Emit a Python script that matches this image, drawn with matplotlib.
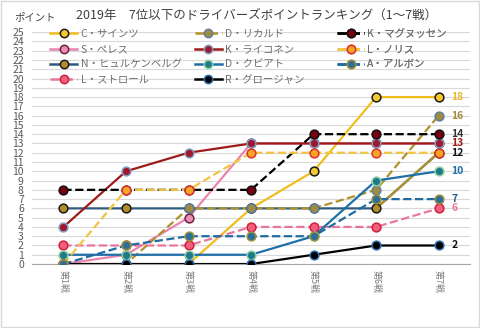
import matplotlib.pyplot as plt
from matplotlib.lines import Line2D
from matplotlib.patches import Rectangle

plt.rcParams['font.family'] = ['Noto Sans CJK JP', 'DejaVu Sans']

races = ['第1戦', '第2戦', '第3戦', '第4戦', '第5戦', '第6戦', '第7戦']
x = list(range(1, 8))

sainz = [0, 0, 0, 6, 10, 18, 18]
ricciardo = [0, 0, 6, 6, 6, 8, 16]
magnussen = [8, 8, 8, 8, 14, 14, 14]
perez = [0, 1, 5, 13, 13, 13, 13]
raikkonen = [4, 10, 12, 13, 13, 13, 13]
norris = [0, 8, 8, 12, 12, 12, 12]
hulkenberg = [6, 6, 6, 6, 6, 6, 12]
kvyat = [1, 1, 1, 1, 3, 9, 10]
albon = [0, 2, 3, 3, 3, 7, 7]
stroll = [2, 2, 2, 4, 4, 4, 6]
grosjean = [0, 0, 0, 0, 1, 2, 2]

# name, data, line colour, linestyle, marker face, marker edge, end label colour
series = [
    ('C・サインツ', sainz, '#F0BE1E', '-', '#F5C830', '#1A1A1A', '#E8B830'),
    ('S・ペレス', perez, '#E884AE', '-', '#EE8CB4', '#6A2440', None),
    ('N・ヒュルケンベルグ', hulkenberg, '#2F5C7E', '-', '#B38D2A', '#1A1A1A', '#111111'),
    ('L・ストロール', stroll, '#E8769C', '--', '#F0607E', '#D0203C', '#E8769C'),
    ('D・リカルド', ricciardo, '#B0922C', '--', '#A18B3E', '#5E80A0', '#A08A3C'),
    ('K・ライコネン', raikkonen, '#9E1A1A', '-', '#A0182E', '#7F9FC0', '#A01818'),
    ('D・クビアト', kvyat, '#1E6FA8', '-', '#1F7A8C', '#90D0A0', '#1F6FA8'),
    ('R・グロージャン', grosjean, '#000000', '-', '#000000', '#3070B0', '#111111'),
    ('K・マグヌッセン', magnussen, '#000000', '--', '#7A0010', '#111111', '#333333'),
    ('L・ノリス', norris, '#F2C440', '--', '#F5A623', '#E03030', None),
    ('A・アルボン', albon, '#1F6CA0', '--', '#2B6E9A', '#A0903A', '#1F5F88'),
]

fig = plt.figure(figsize=(4.8, 3.28), dpi=100)
fig.patches.append(Rectangle((0.002, 0.003), 0.995, 0.993, transform=fig.transFigure,
                             fill=False, edgecolor='#D9D9D9', linewidth=1))
ax = fig.add_axes([0.067, 0.195, 0.912, 0.707])

handles = []
for name, data, lc, ls, mf, me, tc in series:
    ax.plot(x, data, color=lc, linestyle=ls, linewidth=1.6, zorder=3)
    if name.startswith('N'):
        # last segment drawn in olive in the original
        ax.plot(x[-2:], data[-2:], color='#B0922C', linewidth=1.6, zorder=3)
    ax.plot(x, data, linestyle='none', marker='o', markersize=6.3,
            markerfacecolor=mf, markeredgecolor=me, markeredgewidth=1.1, zorder=4)
    handles.append(Line2D([], [], color=lc, linestyle=ls, linewidth=1.8, marker='o',
                          markersize=6, markerfacecolor=mf, markeredgecolor=me,
                          markeredgewidth=1.1))
    if tc:
        ax.annotate(str(data[-1]), (x[-1], data[-1]), xytext=(9, 0),
                    textcoords='offset points', va='center', ha='left',
                    fontsize=7.5, fontweight='bold', color=tc)

ax.set_xlim(0.5, 7.5)
ax.set_ylim(0, 25)
ax.set_yticks(range(0, 26))
ax.set_xticks(x)
ax.set_xticklabels(races, rotation=-90, fontsize=6.5, color='#7F7F7F')
ax.tick_params(axis='y', length=0, labelsize=7.5, labelcolor='#595959', pad=6)
ax.tick_params(axis='x', length=0, pad=4)
ax.grid(axis='y', color='#D9D9D9', linewidth=0.8)
ax.set_axisbelow(True)
for s in ['top', 'right', 'left']:
    ax.spines[s].set_visible(False)
ax.spines['bottom'].set_color('#A6A6A6')

# legend in three columns, placed like the original
cols = [(handles[0:4], [s[0] for s in series[0:4]], 0.025),
        (handles[4:8], [s[0] for s in series[4:8]], 0.355),
        (handles[8:11], [s[0] for s in series[8:11]], 0.68)]
for h, labels, xpos in cols:
    leg = ax.legend(h, labels, loc='upper left', bbox_to_anchor=(xpos, 1.045),
                    frameon=False, fontsize=7.5, handlelength=2.6, handletextpad=0.3,
                    labelspacing=0.5, borderpad=0.2, labelcolor='#6F6F6F')
    ax.add_artist(leg)

fig.text(0.535, 0.952, '2019年　7位以下のドライバーズポイントランキング（1～7戦）',
         ha='center', va='center', fontsize=9, color='#404040')
fig.text(0.03, 0.948, 'ポイント', ha='left', va='center', fontsize=7.5, color='#404040')

fig.savefig('out.png', dpi=100)
